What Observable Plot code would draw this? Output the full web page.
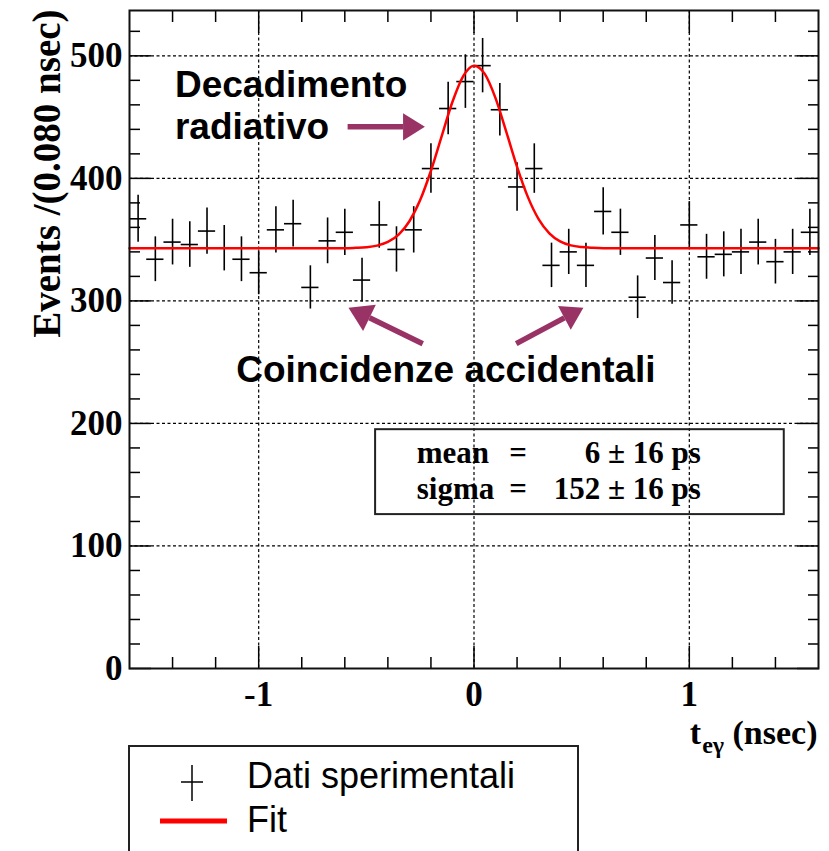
<!DOCTYPE html>
<html>
<head>
<meta charset="utf-8">
<script src="https://cdn.jsdelivr.net/npm/d3@7"></script>
<script src="https://cdn.jsdelivr.net/npm/@observablehq/plot@0.6"></script>
<style>
  html, body { margin: 0; padding: 0; background: white; overflow: hidden; }
  #wrap { position: relative; width: 829px; height: 851px; }
  #legend { position: absolute; left: 0; top: 745px; }
</style>
</head>
<body>
<div id="wrap"><div id="chart"></div><svg id="legend" width="829" height="106"></svg></div>
<script>
// ---- data ----
const binCenters = [-1.56, -1.48, -1.40, -1.32, -1.24, -1.16, -1.08, -1.00, -0.92, -0.84,
  -0.76, -0.68, -0.60, -0.52, -0.44, -0.36, -0.28, -0.20, -0.12, -0.04,
  0.04, 0.12, 0.20, 0.28, 0.36, 0.44, 0.52, 0.60, 0.68, 0.76,
  0.84, 0.92, 1.00, 1.08, 1.16, 1.24, 1.32, 1.40, 1.48, 1.56];
const counts = [367, 334, 348, 346, 357, 343, 334, 323, 358, 363,
  311, 349, 356, 317, 362, 342, 358, 408, 457, 479,
  492, 456, 393, 408, 329, 340, 329, 373, 356, 303,
  335, 315, 362, 336, 338, 340, 348, 332, 340, 356];
const binWidth = 0.08;
// fitted curve
const fitX = [-1.6, -0.6, -0.55, -0.5, -0.45, -0.4, -0.35, -0.3, -0.25, -0.2, -0.15, -0.1, -0.05, 0,
  0.05, 0.1, 0.15, 0.2, 0.25, 0.3, 0.35, 0.4, 0.45, 0.5, 0.55, 0.6, 1.6];
const fitY = [343, 343, 343.3, 343.8, 345.1, 348.1, 354.1, 365, 382.3, 406.2, 434.5, 462.5, 483.5, 492,
  485.3, 465.5, 438, 409.4, 384.9, 366.8, 355.2, 348.6, 345.3, 343.9, 343.3, 343, 343];
const yMajorTicks = [0, 100, 200, 300, 400, 500];
const yMinorTicks = [20, 40, 60, 80, 120, 140, 160, 180, 220, 240, 260, 280, 320, 340, 360, 380, 420, 440, 460, 480, 520];
const xMajorTicks = [-1, 0, 1];
const xMinorTicks = [-1.4, -1.2, -0.8, -0.6, -0.4, -0.2, 0.2, 0.4, 0.6, 0.8, 1.2, 1.4];
const yTitle = "Events /(0.080 nsec)";
const xTitle = "teγ (nsec)";
const statNames = ["mean", "sigma"];
const statValues = ["6 ± 16 ps", "152 ± 16 ps"];
const annotationTexts = ["Decadimento", "radiativo", "Coincidenze accidentali"];
const legendLabels = ["Dati sperimentali", "Fit"];

// ---- tables built from the arrays ----
const hist = binCenters.map((t, i) => ({t, n: counts[i]}));
const fit = fitX.map((x, i) => ({x, y: fitY[i]}));
// annotation placement (data coordinates)
const statsBox = [{x1: -0.457, x2: 1.441, y1: 125.6, y2: 194.9}];
const statRows = [{y: 176.2}, {y: 146.8}].map((d, i) => ({...d, name: statNames[i], value: statValues[i]}));
const notes = [
  {x: -1.389, y: 476.2, anchor: "start"},
  {x: -1.389, y: 441.9, anchor: "start"},
  {x: -0.1305, y: 243.1, anchor: "middle"}
].map((d, i) => ({...d, text: annotationTexts[i]}));
const arrows = [
  {x1: -0.587, y1: 442.1, x2: -0.228, y2: 442.1},
  {x1: -0.238, y1: 265.1, x2: -0.583, y2: 294.5},
  {x1: 0.196, y1: 265.1, x2: 0.508, y2: 294.5}
];

const serif = "Liberation Serif, Times New Roman, serif";
const sans = "Liberation Sans, Arial, sans-serif";
const purple = "#993366";
const gridStyle = {stroke: "black", strokeOpacity: 1, strokeWidth: 1.2, strokeDasharray: "3,2.5"};
const blank = () => "";

const plot = Plot.plot({
  width: 829,
  height: 745,
  marginTop: 10,
  marginBottom: 77,
  marginLeft: 129,
  marginRight: 11,
  x: {domain: [-1.6, 1.6]},
  y: {domain: [0, 537]},
  style: {fontFamily: serif, fontWeight: "bold", fontSize: "35px", color: "black", background: "white", overflow: "visible"},
  marks: [
    Plot.gridX(xMajorTicks, gridStyle),
    Plot.gridY(yMajorTicks.filter(d => d > 0), gridStyle),
    // stats box
    Plot.rect(statsBox, {x1: "x1", x2: "x2", y1: "y1", y2: "y2", fill: "none", stroke: "#222", strokeWidth: 2}),
    Plot.text(statRows, {x: -0.266, y: "y", text: "name", textAnchor: "start", fontFamily: serif, fontWeight: "bold", fontSize: 31}),
    Plot.text(statRows, {x: 0.205, y: "y", text: () => "=", textAnchor: "middle", fontFamily: serif, fontWeight: "bold", fontSize: 31}),
    Plot.text(statRows, {x: 1.054, y: "y", text: "value", textAnchor: "end", fontFamily: serif, fontWeight: "bold", fontSize: 31}),
    // data with sqrt(N) error bars
    Plot.ruleX(hist, {x: "t", y1: d => d.n - Math.sqrt(d.n), y2: d => d.n + Math.sqrt(d.n), stroke: "black", strokeWidth: 1.6}),
    Plot.ruleY(hist, {y: "n", x1: d => d.t - binWidth / 2, x2: d => d.t + binWidth / 2, stroke: "black", strokeWidth: 1.6}),
    // fit
    Plot.line(fit, {x: "x", y: "y", stroke: "red", strokeWidth: 2.5, curve: "monotone-x"}),
    // axes: labels
    Plot.axisY(yMajorTicks, {anchor: "left", tickSize: 0, tickPadding: 7, tickFormat: d => String(d), label: null}),
    Plot.axisX(xMajorTicks, {anchor: "bottom", tickSize: 0, tickPadding: 13, tickFormat: d => String(d), label: null}),
    // inward ticks
    Plot.axisY(yMajorTicks, {anchor: "left", tickSize: -22, tickFormat: blank, label: null, strokeWidth: 1.5}),
    Plot.axisY(yMinorTicks, {anchor: "left", tickSize: -11, tickFormat: blank, label: null, strokeWidth: 1.5}),
    Plot.axisY(yMajorTicks, {anchor: "right", tickSize: -22, tickFormat: blank, label: null, strokeWidth: 1.5}),
    Plot.axisY(yMinorTicks, {anchor: "right", tickSize: -11, tickFormat: blank, label: null, strokeWidth: 1.5}),
    Plot.axisX(xMajorTicks, {anchor: "bottom", tickSize: -22, tickFormat: blank, label: null, strokeWidth: 1.5}),
    Plot.axisX(xMinorTicks, {anchor: "bottom", tickSize: -11, tickFormat: blank, label: null, strokeWidth: 1.5}),
    Plot.axisX(xMajorTicks, {anchor: "top", tickSize: -22, tickFormat: blank, label: null, strokeWidth: 1.5}),
    Plot.axisX(xMinorTicks, {anchor: "top", tickSize: -11, tickFormat: blank, label: null, strokeWidth: 1.5}),
    Plot.frame({stroke: "#111", strokeWidth: 2}),
    // axis titles
    Plot.text([yTitle], {text: d => d, frameAnchor: "top-left", rotate: -90, textAnchor: "end", lineAnchor: "middle", dx: -82, dy: -1, fontFamily: serif, fontWeight: "bold", fontSize: 39}),
    Plot.text([xTitle], {text: d => d, frameAnchor: "bottom-right", textAnchor: "end", lineAnchor: "middle", dy: 65, dx: -1, fontFamily: serif, fontWeight: "bold", fontSize: 34}),
    // annotations
    Plot.arrow(arrows, {x1: "x1", y1: "y1", x2: "x2", y2: "y2", stroke: purple, strokeWidth: 5.5, headLength: 21, headAngle: 64, strokeLinecap: "butt"}),
    Plot.text(notes, {x: "x", y: "y", text: "text", textAnchor: "start", filter: d => d.anchor === "start", fontFamily: sans, fontWeight: "bold", fontSize: 37}),
    Plot.text(notes, {x: "x", y: "y", text: "text", textAnchor: "middle", filter: d => d.anchor === "middle", fontFamily: sans, fontWeight: "bold", fontSize: 37})
  ]
});
document.getElementById("chart").appendChild(plot);

// subscript in the x title
d3.select(plot).selectAll("text").filter(function () { return this.textContent === xTitle; })
  .each(function () {
    const t = d3.select(this);
    t.text(null).style("white-space", "pre");
    t.append("tspan").text("t");
    t.append("tspan").attr("font-size", 24).attr("dy", 9).attr("dx", 1).text("eγ");
    t.append("tspan").attr("dy", -9).text(" (nsec)");
  });

// filled arrow heads: turn Plot's open chevron into a solid triangle
d3.select(plot).selectAll('g[aria-label="arrow"] path').each(function () {
  const p = d3.select(this);
  const n = (p.attr("d").match(/-?\d*\.?\d+(e[-+]?\d+)?/gi) || []).map(Number);
  if (n.length < 10) return;
  const [x1, y1, x2, y2, hx1, hy1, , , hx2, hy2] = n;
  const bx = (hx1 + hx2) / 2, by = (hy1 + hy2) / 2;
  p.attr("d", `M${x1},${y1}L${bx},${by}`);
  d3.select(this.parentNode).append("path")
    .attr("d", `M${hx1},${hy1}L${x2},${y2}L${hx2},${hy2}Z`)
    .attr("fill", purple).attr("stroke", "none");
});

// legend below the plot
const lg = d3.select("#legend");
lg.append("rect").attr("x", 129).attr("y", 1).attr("width", 449).attr("height", 140)
  .attr("fill", "white").attr("stroke", "#222").attr("stroke-width", 2);
lg.append("line").attr("x1", 192).attr("x2", 192).attr("y1", 20).attr("y2", 56).attr("stroke", "black").attr("stroke-width", 1.5);
lg.append("line").attr("x1", 181).attr("x2", 203).attr("y1", 37).attr("y2", 37).attr("stroke", "black").attr("stroke-width", 1.5);
lg.append("line").attr("x1", 160).attr("x2", 227).attr("y1", 76).attr("y2", 76).attr("stroke", "red").attr("stroke-width", 5);
lg.selectAll("text.lab").data(legendLabels).join("text").attr("class", "lab")
  .attr("x", 247).attr("y", (d, i) => 43 + i * 44)
  .attr("font-family", sans).attr("font-size", 36).text(d => d);
</script>
</body>
</html>
